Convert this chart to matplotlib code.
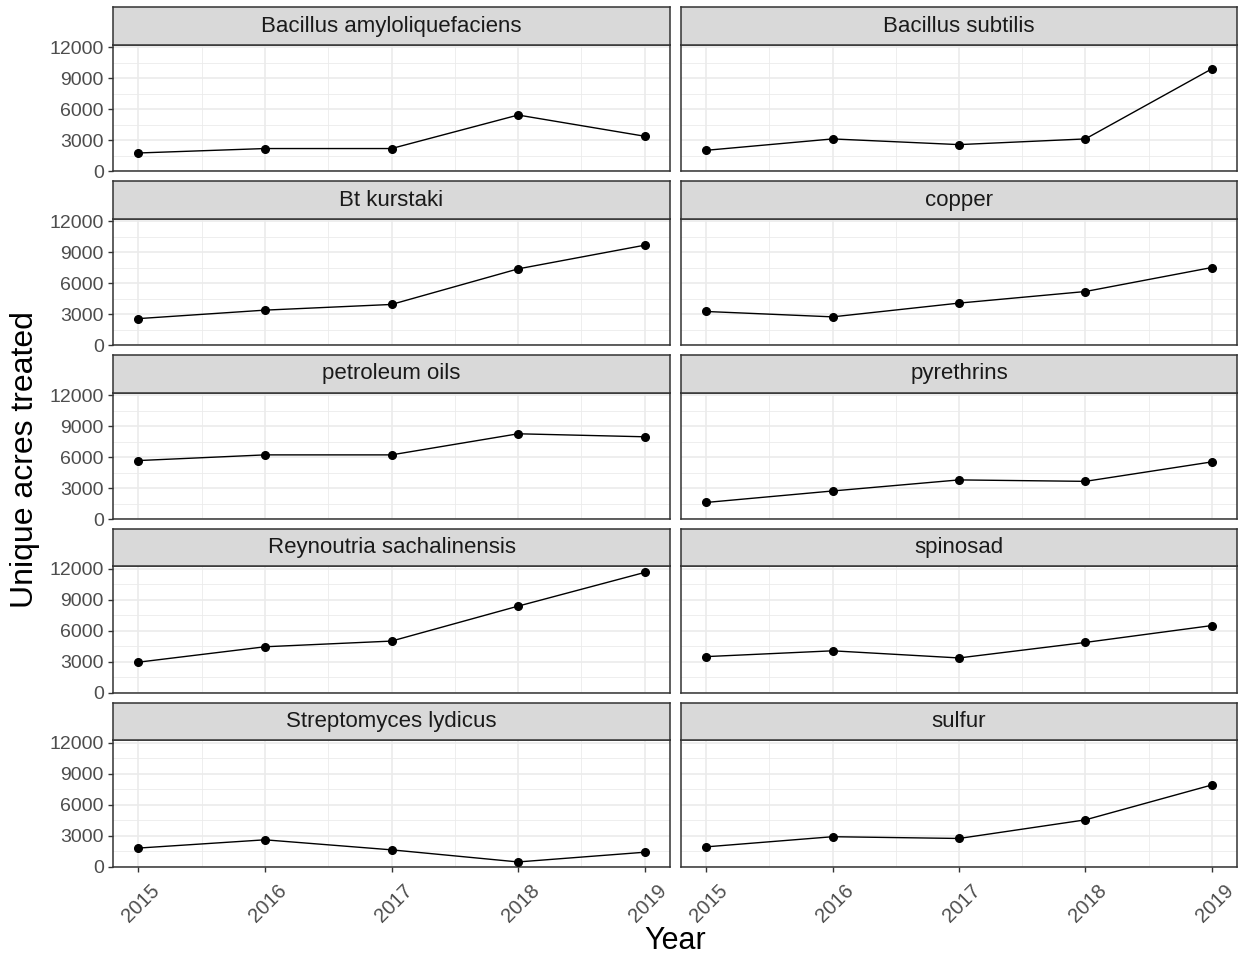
import numpy as np
import matplotlib
matplotlib.use("Agg")
import matplotlib.pyplot as plt

plt.rcParams['font.family'] = ['Liberation Sans', 'DejaVu Sans']

years = [2015, 2016, 2017, 2018, 2019]

# unique acres treated per active ingredient
bacillus_amylo = [1790, 2220, 2220, 5460, 3410]
bacillus_subtilis = [2050, 3150, 2600, 3150, 9920]
bt_kurstaki = [2580, 3400, 3950, 7390, 9680]
copper = [3270, 2750, 4080, 5200, 7520]
petroleum_oils = [5660, 6210, 6210, 8250, 7960]
pyrethrins = [1610, 2720, 3790, 3650, 5530]
reynoutria = [2970, 4460, 5010, 8390, 11650]
spinosad = [3510, 4070, 3380, 4880, 6510]
streptomyces = [1800, 2600, 1630, 460, 1400]
sulfur = [1920, 2900, 2730, 4530, 7900]

names = ["Bacillus amyloliquefaciens", "Bacillus subtilis", "Bt kurstaki", "copper",
         "petroleum oils", "pyrethrins", "Reynoutria sachalinensis", "spinosad",
         "Streptomyces lydicus", "sulfur"]
series = [bacillus_amylo, bacillus_subtilis, bt_kurstaki, copper, petroleum_oils,
          pyrethrins, reynoutria, spinosad, streptomyces, sulfur]

y_ticks = [0, 3000, 6000, 9000, 12000]
y_minor = [1500, 4500, 7500, 10500]
x_minor = [2015.5, 2016.5, 2017.5, 2018.5]

W, H = 1238, 955
fig = plt.figure(figsize=(W / 100, H / 100), dpi=100)

col_x = [(113, 670), (681, 1237)]
row_top0 = 7.5
row_pitch = 173.8
strip_h = 37.5
panel_h = 126.5

ymax = max(max(s) for s in series) * 1.05
border = '#333333'

for i, (name, vals) in enumerate(zip(names, series)):
    r, c = divmod(i, 2)
    x0, x1 = col_x[c]
    top = row_top0 + r * row_pitch
    strip_bottom = top + strip_h
    panel_bottom = strip_bottom + panel_h

    ax = fig.add_axes([x0 / W, 1 - panel_bottom / H, (x1 - x0) / W, panel_h / H])
    sax = fig.add_axes([x0 / W, 1 - strip_bottom / H, (x1 - x0) / W, strip_h / H])

    # strip
    sax.set_facecolor('#D9D9D9')
    sax.set_xticks([])
    sax.set_yticks([])
    for sp in sax.spines.values():
        sp.set_color(border)
        sp.set_linewidth(1.1)
    sax.text(0.5, 0.5, name, ha='center', va='center', fontsize=16,
             color='#1A1A1A', transform=sax.transAxes)

    # panel
    ax.set_xlim(2014.8, 2019.2)
    ax.set_ylim(0, ymax)
    for yv in y_minor:
        ax.axhline(yv, color='#EBEBEB', lw=0.6, zorder=0)
    for xv in x_minor:
        ax.axvline(xv, color='#EBEBEB', lw=0.6, zorder=0)
    for yv in y_ticks:
        ax.axhline(yv, color='#EBEBEB', lw=1.2, zorder=0)
    for xv in years:
        ax.axvline(xv, color='#EBEBEB', lw=1.2, zorder=0)

    ax.plot(years, vals, color='black', lw=1.0, zorder=3)
    ax.plot(years, vals, 'o', color='black', ms=5.5, zorder=4)

    for sp in ax.spines.values():
        sp.set_color(border)
        sp.set_linewidth(1.1)

    ax.set_xticks(years)
    ax.set_yticks(y_ticks)
    ax.tick_params(colors=border, length=3.5, width=1.0)
    ax.tick_params(labelcolor='#4D4D4D', labelsize=14, pad=3)

    if c == 0:
        ax.set_yticklabels([str(v) for v in y_ticks])
    else:
        ax.tick_params(axis='y', left=False, labelleft=False)

    if r == 4:
        ax.set_xticklabels([])
        for yr in years:
            ax.annotate(str(yr), xy=(yr, 0), xycoords=('data', 'axes fraction'),
                        xytext=(8.5, -10.5), textcoords='offset points',
                        rotation=45, ha='right', va='top', rotation_mode='anchor',
                        fontsize=14.5, color='#4D4D4D')
    else:
        ax.tick_params(axis='x', bottom=False, labelbottom=False)

fig.text(675 / W, 1 - 941 / H, "Year", ha='center', va='center', fontsize=22)
fig.text(25 / W, 1 - 460 / H, "Unique acres treated", ha='center', va='center',
         rotation=90, fontsize=23)

fig.savefig("out.png", dpi=100)
